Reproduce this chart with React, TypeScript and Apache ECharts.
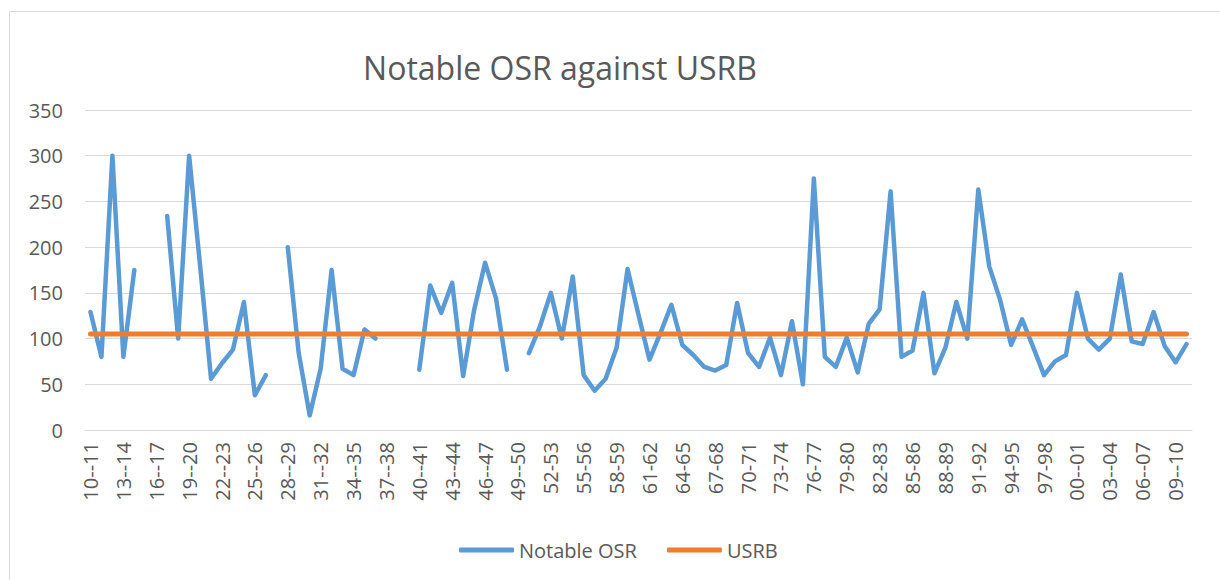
import React, { useEffect, useRef } from "react";
import * as echarts from "echarts";

const categories: string[] = [
  "10--11", "11--12", "12--13", "13--14", "14--15", "15--16", "16--17", "17--18", "18--19", "19--20",
  "20--21", "21--22", "22--23", "23--24", "24--25", "25--26", "26--27", "27--28", "28--29", "29--30",
  "30--31", "31--32", "32--33", "33--34", "34--35", "35--36", "36--37", "37--38", "38--39", "39--40",
  "40--41", "41--42", "42--43", "43--44", "44--45", "45--46", "46--47", "47--48", "48--49", "49--50",
  "50-51", "51-52", "52-53", "53-54", "54-55", "55-56", "56-57", "57-58", "58-59", "59-60",
  "60-61", "61-62", "62-63", "63-64", "64-65", "65-66", "66-67", "67-68", "68-69", "69-70",
  "70-71", "71-72", "72-73", "73-74", "74-75", "75-76", "76-77", "77-78", "78-79", "79-80",
  "80-81", "81-82", "82-83", "83-84", "84-85", "85-86", "86-87", "87-88", "88-89", "89-90",
  "90-91", "91-92", "92-93", "93-94", "94-95", "95-96", "96-97", "97-98", "98-99", "99-00",
  "00--01", "01--02", "02--03", "03--04", "04--05", "05--06", "06--07", "07--08", "08--09", "09--10",
  "10--11",
];

const notableOSR: (number | null)[] = [
  129, 80, 300, 80, 175, null, null, 234, 100, 300,
  180, 56, 73, 88, 140, 38, 60, null, 200, 84,
  16, 67, 175, 67, 60, 110, 100, null, null, null,
  66, 158, 128, 161, 59, 131, 183, 144, 66, null,
  84, 113, 150, 100, 168, 60, 43, 56, 90, 176,
  126, 77, 106, 137, 93, 82, 69, 65, 71, 139,
  84, 69, 101, 60, 119, 50, 275, 80, 69, 101,
  63, 116, 132, 261, 80, 87, 150, 62, 90, 140,
  100, 263, 179, 142, 93, 121, 91, 60, 75, 82,
  150, 100, 88, 100, 170, 97, 94, 129, 92, 74,
  94,
];

const usrb: number[] = [
  105, 105, 105, 105, 105, 105, 105, 105, 105, 105,
  105, 105, 105, 105, 105, 105, 105, 105, 105, 105,
  105, 105, 105, 105, 105, 105, 105, 105, 105, 105,
  105, 105, 105, 105, 105, 105, 105, 105, 105, 105,
  105, 105, 105, 105, 105, 105, 105, 105, 105, 105,
  105, 105, 105, 105, 105, 105, 105, 105, 105, 105,
  105, 105, 105, 105, 105, 105, 105, 105, 105, 105,
  105, 105, 105, 105, 105, 105, 105, 105, 105, 105,
  105, 105, 105, 105, 105, 105, 105, 105, 105, 105,
  105, 105, 105, 105, 105, 105, 105, 105, 105, 105,
  105,
];

const FONT = "'Open Sans', 'Noto Sans', sans-serif";
const TEXT = "#595959";
const GRID = "#d9d9d9";

export default function App() {
  const ref = useRef<HTMLDivElement>(null);
  useEffect(() => {
    if (!ref.current) return;
    const chart = echarts.init(ref.current, undefined, { renderer: "svg" });
    chart.setOption({
      animation: false,
      backgroundColor: "#ffffff",
      title: {
        text: "Notable OSR against USRB",
        left: 555,
        top: 46,
        textAlign: "center",
        textStyle: { fontFamily: FONT, fontSize: 32, fontWeight: "normal", color: TEXT },
      },
      graphic: [
        {
          type: "rect",
          z: -1,
          shape: { x: 9.5, y: 11.5, width: 1300, height: 700 },
          style: { fill: "none", stroke: GRID, lineWidth: 1 },
          silent: true,
        },
      ],
      legend: {
        left: 454,
        top: 535,
        itemWidth: 55,
        itemHeight: 5,
        itemGap: 30,
        icon: "roundRect",
        textStyle: { fontFamily: FONT, fontSize: 20, color: TEXT },
        data: ["Notable OSR", "USRB"],
      },
      grid: { left: 85, right: 28, top: 110, bottom: 150 },
      xAxis: {
        type: "category",
        data: categories,
        boundaryGap: true,
        axisLine: { show: true, lineStyle: { color: GRID, width: 1 } },
        axisTick: { show: false },
        axisLabel: {
          interval: 2,
          rotate: 90,
          margin: 12,
          fontFamily: FONT,
          fontSize: 20,
          color: TEXT,
        },
      },
      yAxis: {
        type: "value",
        min: 0,
        max: 350,
        interval: 50,
        axisLine: { show: false },
        axisTick: { show: false },
        splitLine: { lineStyle: { color: GRID, width: 1 } },
        axisLabel: { margin: 22, fontFamily: FONT, fontSize: 20, color: TEXT },
      },
      series: [
        {
          name: "Notable OSR",
          type: "line",
          data: notableOSR,
          symbol: "none",
          connectNulls: false,
          color: "#5B9BD5",
          lineStyle: { width: 4.5, color: "#5B9BD5", cap: "round", join: "round" },
        },
        {
          name: "USRB",
          type: "line",
          data: usrb,
          symbol: "none",
          color: "#ED7D31",
          lineStyle: { width: 5, color: "#ED7D31", cap: "round", join: "round" },
        },
      ],
    });
    return () => chart.dispose();
  }, []);
  return (
    <div
      ref={ref}
      style={{ position: "absolute", left: 0, top: 0, width: 1220, height: 580 }}
    />
  );
}
